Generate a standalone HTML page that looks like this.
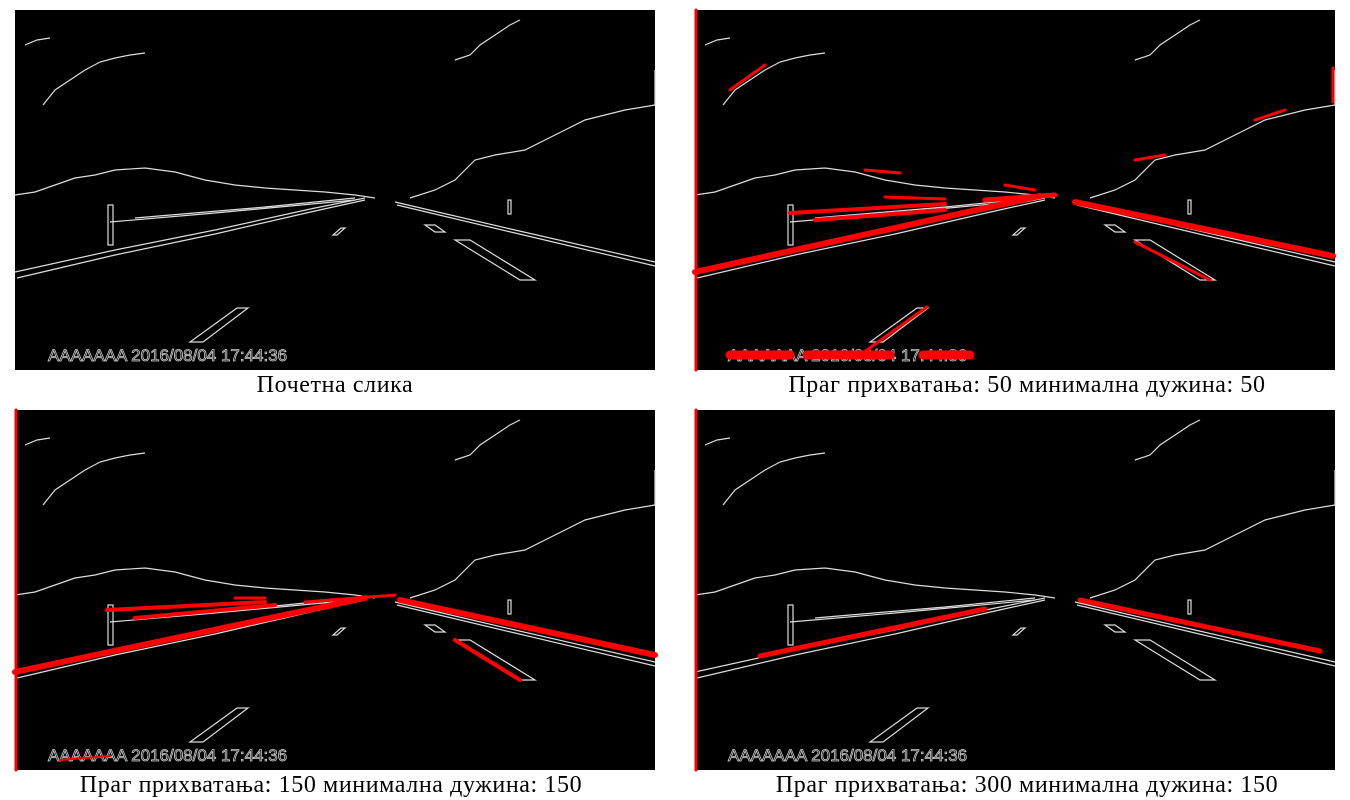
<!DOCTYPE html>
<html><head><meta charset="utf-8"><style>
body{margin:0;background:#fff;width:1350px;height:800px;overflow:hidden}
svg{display:block}
.cap{font-family:"Liberation Serif","DejaVu Serif",serif;font-size:24px;letter-spacing:0.6px;fill:#000}
</style></head><body>
<svg width="1350" height="800">
<defs>
<g id="edges" fill="none" stroke="#ddd" stroke-width="1.2">
<rect width="640" height="360" fill="#000" stroke="none"/>
<polyline points="10,35 22,30 35,28"/>
<polyline points="28,95 40,80 55,70 70,60 85,52 100,48 115,45 130,43"/>
<polyline points="440,50 455,45 465,35 480,25 495,15 505,10"/>
<polyline points="0,185 20,182 40,175 60,168 80,165 100,160 130,158 160,162 190,170 220,175 250,178 280,180 310,182 340,185 360,188"/>
<polyline points="395,188 420,180 440,170 460,150 480,145 510,140 530,130 550,120 570,110 590,105 610,100 640,95"/>
<polyline points="640,60 640,95"/>
<polyline points="0,262 100,240 200,220 300,198 350,188"/>
<polyline points="2,268 100,245 200,224 300,201 350,190"/>
<polyline points="95,212 200,203 340,190"/>
<polyline points="120,208 250,197 340,188"/>
<polyline points="380,192 500,220 640,252"/>
<polyline points="382,195 500,223 640,256"/>
<polygon points="440,230 455,230 520,270 505,270"/>
<polygon points="175,332 188,332 233,298 222,298"/>
<polygon points="318,225 322,225 330,218 326,218"/>
<polygon points="410,215 420,215 430,222 420,222"/>
<rect x="93" y="195" width="5" height="40"/>
<rect x="493" y="190" width="3" height="14"/>
<text x="33" y="351" font-family="Liberation Sans,sans-serif" font-size="17" fill="none" stroke="#ccc" stroke-width="0.8">AAAAAAA  2016/08/04 17:44:36</text>
</g>
</defs>

<g transform="translate(15,10)">
<use href="#edges"/>
</g>
<text class="cap" x="335" y="392" text-anchor="middle">Почетна слика</text>

<g transform="translate(695,10)">
<use href="#edges"/>
<g stroke="#f00" stroke-linecap="round" fill="none">
<line x1="1" y1="0" x2="1" y2="360" stroke-width="3"/>
<line x1="0" y1="262" x2="345" y2="186" stroke-width="6"/>
<line x1="380" y1="192" x2="638" y2="246" stroke-width="6"/>
<line x1="95" y1="203" x2="250" y2="194" stroke-width="4"/>
<line x1="120" y1="210" x2="250" y2="200" stroke-width="4"/>
<line x1="290" y1="190" x2="360" y2="185" stroke-width="5"/>
<line x1="35" y1="80" x2="70" y2="55" stroke-width="3"/>
<line x1="560" y1="110" x2="590" y2="100" stroke-width="3"/>
<line x1="440" y1="150" x2="470" y2="145" stroke-width="3"/>
<line x1="170" y1="160" x2="205" y2="163" stroke-width="3"/>
<line x1="310" y1="175" x2="340" y2="180" stroke-width="3"/>
<line x1="190" y1="187" x2="250" y2="189" stroke-width="3"/>
<line x1="638" y1="58" x2="638" y2="92" stroke-width="3"/>
<line x1="440" y1="232" x2="515" y2="270" stroke-width="3"/>
<line x1="165" y1="345" x2="232" y2="297" stroke-width="3"/>
<line x1="35" y1="345" x2="95" y2="345" stroke-width="9"/>
<line x1="112" y1="345" x2="195" y2="345" stroke-width="9"/>
<line x1="228" y1="345" x2="275" y2="345" stroke-width="9"/>
</g>
</g>
<text class="cap" x="1027" y="392" text-anchor="middle">Праг прихватања: 50 минимална дужина: 50</text>

<g transform="translate(15,410)">
<use href="#edges"/>
<g stroke="#f00" stroke-linecap="round" fill="none">
<line x1="1" y1="0" x2="1" y2="360" stroke-width="3"/>
<line x1="0" y1="262" x2="350" y2="188" stroke-width="6"/>
<line x1="385" y1="190" x2="640" y2="245" stroke-width="6"/>
<line x1="92" y1="200" x2="250" y2="192" stroke-width="4"/>
<line x1="120" y1="208" x2="260" y2="195" stroke-width="4"/>
<line x1="220" y1="188" x2="250" y2="188" stroke-width="3"/>
<line x1="290" y1="192" x2="380" y2="185" stroke-width="3"/>
<line x1="440" y1="230" x2="505" y2="270" stroke-width="4"/>
<line x1="45" y1="350" x2="95" y2="346" stroke-width="2"/>
</g>
</g>
<text class="cap" x="331" y="792" text-anchor="middle">Праг прихватања: 150 минимална дужина: 150</text>

<g transform="translate(695,410)">
<use href="#edges"/>
<g stroke="#f00" stroke-linecap="round" fill="none">
<line x1="1" y1="0" x2="1" y2="360" stroke-width="3"/>
<line x1="65" y1="246" x2="290" y2="199" stroke-width="5"/>
<line x1="385" y1="190" x2="625" y2="241" stroke-width="5"/>
</g>
</g>
<text class="cap" x="1027" y="792" text-anchor="middle">Праг прихватања: 300 минимална дужина: 150</text>
</svg>
</body></html>
